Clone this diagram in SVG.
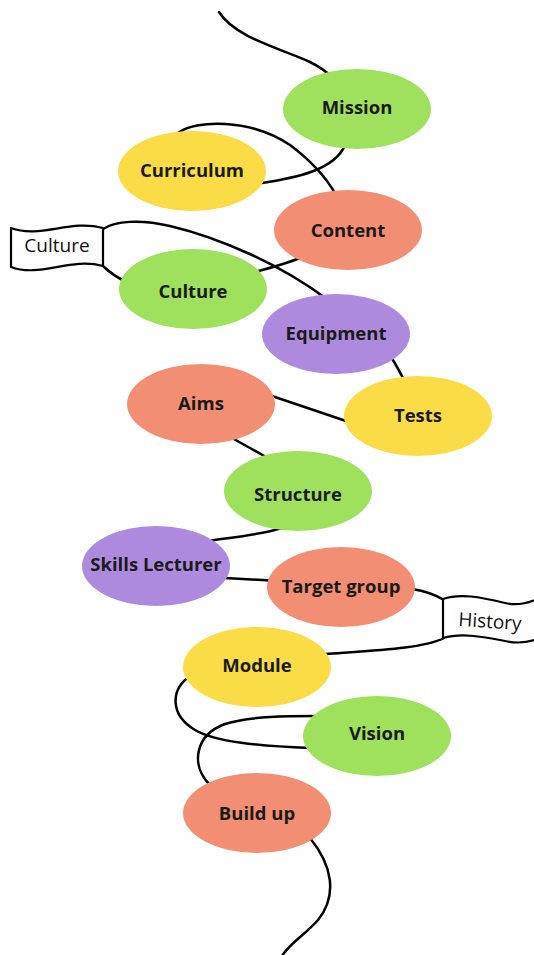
<svg xmlns="http://www.w3.org/2000/svg" width="534" height="955" viewBox="0 0 534 955">
<style>
.n{stroke:none}
.g{fill:#9fe05d}.y{fill:#f9dc46}.s{fill:#f28e73}.p{fill:#ae8ade}
.t{font-family:"Open Sans","Noto Sans","DejaVu Sans",sans-serif;font-weight:700;font-size:18.5px;fill:#1a1a1a;text-anchor:middle}
.f{fill:#fff;stroke:#000;stroke-width:2.2;stroke-linejoin:round}
.ft{font-family:"Open Sans","Noto Sans","DejaVu Sans",sans-serif;font-size:19px;fill:#111;text-anchor:middle}
#connectors path{fill:none;stroke:#000;stroke-width:2.5;stroke-linecap:round}
</style>
<rect width="534" height="955" fill="#fff"/>
<g id="connectors">
<path d="M219,12 C235,38 285,50 310,62 C320,67 327,72 333,78"/>
<path d="M345,145 C335,170 295,178 262,183"/>
<path d="M178,133 C195,120 250,118 290,145 C310,160 325,175 336,195"/>
<path d="M300,258 C285,264 270,268 255,272"/>
<path d="M128,283 C118,278 110,273 103,266"/>
<path d="M103,229 C115,221 140,219 170,226 C220,238 280,264 328,300"/>
<path d="M390,355 C396,365 400,372 404,380"/>
<path d="M346,421 L272,396"/>
<path d="M232,438 L268,458"/>
<path d="M282,528 C260,535 235,537 208,541"/>
<path d="M225,578 L270,580.5"/>
<path d="M412,589 C425,591 436,595 444,600"/>
<path d="M444,638 C425,648 380,650 325,654"/>
<path d="M190,676 C170,690 170,715 195,730 C215,742 260,746 310,748"/>
<path d="M316,716 C290,716 250,716 225,724 C195,735 190,765 210,785"/>
<path d="M310,838 C332,865 338,895 318,920 C305,935 290,943 282,956"/>
</g>
<g id="flag-culture">
<path class="f" d="M11,228 C40,239 70,219 103,228 L103,266 C70,257 40,278 11,267 Z"/>
<text class="ft" x="57" y="252">Culture</text>
</g>
<g id="flag-history">
<path class="f" d="M443,599 C460,593 480,597 505,603 C518,606 528,603 540,598 L540,638 C528,643 518,644 505,641 C480,636 460,633 443,638 Z"/>
<text class="ft" x="490" y="628" transform="rotate(4 490 621)">History</text>
</g>
<g id="mission"><ellipse class="n g" cx="357" cy="109" rx="74" ry="40"/><text class="t" x="357" y="114">Mission</text></g>
<g id="curriculum"><ellipse class="n y" cx="192" cy="171" rx="74" ry="40"/><text class="t" x="192" y="177">Curriculum</text></g>
<g id="content"><ellipse class="n s" cx="348" cy="230" rx="74" ry="40"/><text class="t" x="348" y="237">Content</text></g>
<g id="culture"><ellipse class="n g" cx="193" cy="289" rx="74" ry="40"/><text class="t" x="193" y="298">Culture</text></g>
<g id="equipment"><ellipse class="n p" cx="336" cy="334" rx="74" ry="40"/><text class="t" x="336" y="340">Equipment</text></g>
<g id="aims"><ellipse class="n s" cx="201" cy="404" rx="74" ry="40"/><text class="t" x="201" y="410">Aims</text></g>
<g id="tests"><ellipse class="n y" cx="418" cy="416" rx="74" ry="40"/><text class="t" x="418" y="422">Tests</text></g>
<g id="structure"><ellipse class="n g" cx="298" cy="491" rx="74" ry="40"/><text class="t" x="298" y="501">Structure</text></g>
<g id="skills-lecturer"><ellipse class="n p" cx="156" cy="566" rx="74" ry="40"/><text class="t" x="156" y="571">Skills Lecturer</text></g>
<g id="target-group"><ellipse class="n s" cx="341" cy="587" rx="74" ry="40"/><text class="t" x="341" y="593">Target group</text></g>
<g id="module"><ellipse class="n y" cx="257" cy="667" rx="74" ry="40"/><text class="t" x="257" y="672">Module</text></g>
<g id="vision"><ellipse class="n g" cx="377" cy="736" rx="74" ry="40"/><text class="t" x="377" y="740">Vision</text></g>
<g id="build-up"><ellipse class="n s" cx="257" cy="813" rx="74" ry="40"/><text class="t" x="257" y="820">Build up</text></g>
</svg>
